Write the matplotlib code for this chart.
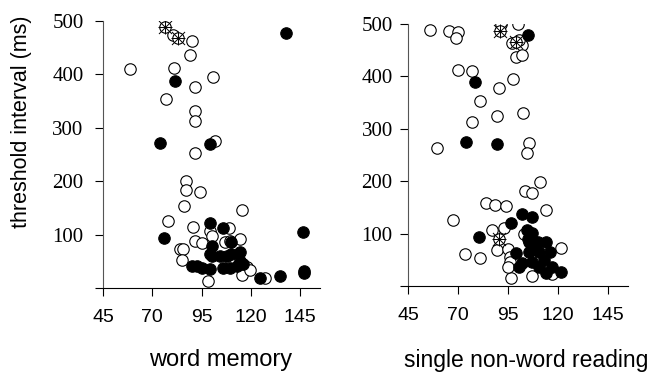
import matplotlib
matplotlib.use("Agg")
import matplotlib.pyplot as plt

# ---- data: left panel (word memory) ----
wm_open_x = [80.5, 90, 89, 58.7, 81, 101, 91.6, 77, 91.6, 91.6, 102, 91.6, 87, 87, 94, 86, 115.5, 78,
             109, 90.6, 99, 100, 91.6, 95, 107, 114.5, 109.4, 84, 85.6, 85, 118, 115.5, 110, 127, 98, 119.5]
wm_open_y = [474, 463, 437, 410, 412, 396, 377, 354, 332, 312, 276, 253, 200, 183, 179, 153, 146, 125,
             112, 114, 106, 97, 88, 84, 86, 91, 88, 73, 73, 52, 39, 24, 50, 19, 13, 34]
wm_fill_x = [81.5, 74, 99, 138, 76, 99, 106, 100, 110, 100, 99, 104.5, 108, 110, 114.5, 90, 92.7, 95, 99,
             106, 109.4, 113, 116, 114.5, 124.6, 134.7, 146.4, 147, 147]
wm_fill_y = [388, 272, 270, 478, 93, 121, 112, 79, 86, 60, 63, 60, 60, 63, 67, 41, 41, 37, 35,
             37, 37, 41, 45, 50, 19, 22, 104, 28, 32]
wm_cross_x = [76.4, 83]
wm_cross_y = [489, 468]

# ---- data: right panel (single non-word reading) ----
nw_open_x = [56.2, 65.3, 69.8, 68.8, 91.5, 100, 97, 102, 99, 102, 100.5, 69.8, 77, 97.5, 90.5, 81, 89.5,
             102.4, 77, 59.4, 105.4, 104.5, 110.8, 103.4, 107, 84, 88.6, 94, 67.3, 113.8, 87, 93, 89.5,
             73.7, 81, 96.5, 107, 121.7, 95, 96, 96, 95, 103, 117]
nw_open_y = [488, 487, 485, 474, 500, 500, 464, 460, 437, 441, 469, 412, 411, 395, 378, 353, 325,
             330, 313, 263, 273, 254, 199, 181, 177, 158, 154, 153, 126, 145, 107, 110, 69,
             61, 53, 15, 19, 72, 70, 55, 45, 36, 100, 22]
nw_fill_x = [105, 78.7, 74, 89.5, 102, 107, 96.5, 80.6, 104.4, 107, 105.4, 110, 113.8, 105.4, 110.3, 116,
             99, 102, 107, 113, 100.4, 110.3, 117, 113.8, 121.7, 105, 108]
nw_fill_y = [479, 389, 275, 271, 137, 131, 121, 94, 107, 101, 84, 84, 84, 65, 65, 65,
             63, 44, 46, 50, 36, 36, 36, 25, 27, 90, 72]
nw_cross_x = [91, 99, 90.5]
nw_cross_y = [487, 466, 90]

x_ticks = [45, 70, 95, 120, 145]
y_ticks = [0, 100, 200, 300, 400, 500]
y_ticklabels = ["", "100", "200", "300", "400", "500"]

fig = plt.figure(figsize=(6.5, 3.72), dpi=100)
W, H = 650, 372
ax1 = fig.add_axes([103 / W, 1 - 288 / H, (320 - 103) / W, (288 - 21) / H])
ax2 = fig.add_axes([408 / W, 1 - 286 / H, (628 - 408) / W, (286 - 24) / H])

ms = 68

def panel(ax, ox, oy, fx, fy, cx, cy, ypad):
    ax.scatter(ox, oy, s=ms, facecolors="white", edgecolors="black", linewidths=0.8, zorder=2)
    ax.scatter(fx, fy, s=ms, facecolors="black", edgecolors="black", linewidths=0.8, zorder=3)
    ax.scatter(cx, cy, s=ms, facecolors="white", edgecolors="black", linewidths=0.8, zorder=4)
    ax.scatter(cx, cy, s=ms * 1.3, marker="x", color="black", linewidths=0.7, zorder=5)
    ax.scatter(cx, cy, s=ms * 1.3, marker="+", color="black", linewidths=0.7, zorder=5)
    ax.set_xlim(45, 155)
    ax.set_ylim(0, 500)
    ax.set_xticks(x_ticks)
    ax.set_xticklabels([str(t) for t in x_ticks], family="Liberation Sans", fontsize=14)
    ax.set_yticks(y_ticks)
    ax.set_yticklabels(y_ticklabels, family="Liberation Serif", fontsize=15)
    for s in ["top", "right"]:
        ax.spines[s].set_visible(False)
    ax.spines["left"].set_linewidth(0.8)
    ax.spines["bottom"].set_linewidth(0.8)
    ax.spines["left"].set_color("#555555")
    ax.tick_params(axis="x", direction="out", length=6, width=0.8, pad=9)
    ax.tick_params(axis="y", direction="out", length=6, width=0.8, pad=ypad)
    ax.patch.set_visible(False)

panel(ax1, wm_open_x, wm_open_y, wm_fill_x, wm_fill_y, wm_cross_x, wm_cross_y, 8)
panel(ax2, nw_open_x, nw_open_y, nw_fill_x, nw_fill_y, nw_cross_x, nw_cross_y, 5)

fig.text(22 / W, 1 - 122 / H, "threshold interval (ms)", rotation=90, ha="center", va="center",
         family="Liberation Sans", fontsize=15.5)
fig.text(221 / W, 1 - 360 / H, "word memory", ha="center", va="center",
         family="Liberation Sans", fontsize=17)
fig.text(526 / W, 1 - 360 / H, "single non-word reading", ha="center", va="center",
         family="Liberation Sans", fontsize=16.5)

fig.savefig("out.png", dpi=100)
